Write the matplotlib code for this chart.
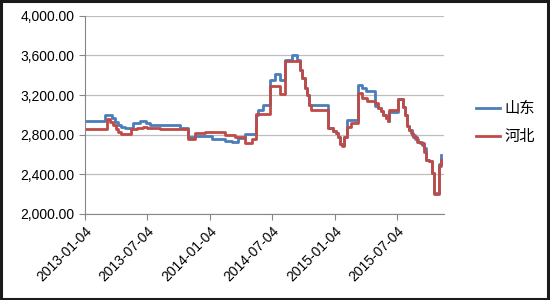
import matplotlib

matplotlib.use("Agg")
import matplotlib.dates as mdates
import matplotlib.pyplot as plt
import numpy as np
from matplotlib.patches import Rectangle
from matplotlib.ticker import FuncFormatter

# breakpoints of the two step series (date where the price changes, new price)
sd_dates = np.array([
    "2013-01-04", "2013-03-02", "2013-03-23", "2013-03-31", "2013-04-09", "2013-04-18",
    "2013-04-30", "2013-05-23", "2013-06-13", "2013-06-30", "2013-07-12", "2013-10-08",
    "2013-10-31", "2013-11-21", "2014-01-10", "2014-02-17", "2014-03-09", "2014-03-27",
    "2014-04-16", "2014-05-19", "2014-05-25", "2014-06-08", "2014-06-29", "2014-07-13",
    "2014-07-28", "2014-08-12", "2014-09-01", "2014-09-16", "2014-09-25", "2014-09-30",
    "2014-10-09", "2014-10-15", "2014-10-21", "2014-12-16", "2014-12-30", "2015-01-08",
    "2015-01-14", "2015-01-20", "2015-01-26", "2015-01-31", "2015-02-09", "2015-03-13",
    "2015-03-25", "2015-04-06", "2015-05-02", "2015-05-11", "2015-05-20", "2015-05-26",
    "2015-06-03", "2015-06-09", "2015-06-12", "2015-07-09", "2015-07-23", "2015-07-29",
    "2015-08-04", "2015-08-10", "2015-08-19", "2015-08-27", "2015-09-05", "2015-09-17",
    "2015-09-23", "2015-09-29", "2015-10-07", "2015-10-16", "2015-10-22", "2015-11-06",
    "2015-11-12",
], dtype="datetime64[D]")
sd_vals = [
    2940, 3000, 2970, 2930, 2900, 2880,
    2870, 2920, 2940, 2920, 2900, 2870,
    2780, 2790, 2760, 2740, 2730, 2770,
    2810, 3000, 3050, 3100, 3350, 3410,
    3350, 3555, 3600, 3555, 3455, 3375,
    3270, 3200, 3100, 2865, 2840, 2820,
    2780, 2710, 2700, 2780, 2950, 3300,
    3270, 3240, 3090, 3070, 3035, 3000,
    2965, 2935, 3030, 3160, 3080, 3000,
    2890, 2850, 2800, 2760, 2730, 2700,
    2665, 2545, 2530, 2415, 2210, 2500,
    2600,
]

hb_dates = np.array([
    "2013-01-04", "2013-03-08", "2013-03-17", "2013-03-26", "2013-04-03", "2013-04-09",
    "2013-04-18", "2013-05-17", "2013-06-04", "2013-06-21", "2013-07-03", "2013-08-10",
    "2013-10-31", "2013-11-21", "2013-12-20", "2014-02-17", "2014-03-18", "2014-04-16",
    "2014-05-07", "2014-05-19", "2014-06-29", "2014-07-28", "2014-08-12", "2014-09-25",
    "2014-09-30", "2014-10-09", "2014-10-15", "2014-10-21", "2014-10-27", "2014-12-16",
    "2014-12-30", "2015-01-08", "2015-01-14", "2015-01-20", "2015-01-26", "2015-01-31",
    "2015-02-09", "2015-02-21", "2015-03-13", "2015-03-25", "2015-04-09", "2015-05-02",
    "2015-05-11", "2015-05-20", "2015-05-26", "2015-06-03", "2015-06-09", "2015-06-12",
    "2015-07-09", "2015-07-23", "2015-07-29", "2015-08-04", "2015-08-10", "2015-08-16",
    "2015-08-22", "2015-09-02", "2015-09-11", "2015-09-23", "2015-09-29", "2015-10-07",
    "2015-10-16", "2015-10-22", "2015-11-06", "2015-11-12",
], dtype="datetime64[D]")
hb_vals = [
    2860, 2955, 2930, 2900, 2860, 2830,
    2810, 2855, 2870, 2880, 2870, 2860,
    2760, 2815, 2825, 2800, 2775, 2720,
    2755, 3010, 3290, 3215, 3540, 3455,
    3375, 3270, 3200, 3100, 3050, 2865,
    2840, 2820, 2780, 2710, 2690, 2780,
    2875, 2915, 3220, 3170, 3140, 3120,
    3070, 3035, 3000, 2965, 2935, 3050,
    3160, 3080, 3000, 2890, 2850, 2820,
    2780, 2730, 2715, 2630, 2545, 2530,
    2415, 2200, 2480, 2545,
]

series_names = ["山东", "河北"]
colors = ["#4A7EBB", "#BE4B48"]

x_ticks = np.array(["2013-01-04", "2013-07-04", "2014-01-04", "2014-07-04",
                    "2015-01-04", "2015-07-04"], dtype="datetime64[D]")
y_ticks = [2000, 2400, 2800, 3200, 3600, 4000]

plt.rcParams["font.family"] = ["Liberation Sans", "Noto Sans CJK SC", "DejaVu Sans"]

fig = plt.figure(figsize=(5.5, 3.0), dpi=100, facecolor="white")
ax = fig.add_axes([0.155, 0.287, 0.652, 0.66])

ax.step(sd_dates, sd_vals, where="post", color=colors[0], lw=2.0, label=series_names[0])
ax.step(hb_dates, hb_vals, where="post", color=colors[1], lw=2.0, label=series_names[1])

ax.set_ylim(2000, 4000)
ax.set_yticks(y_ticks)
ax.yaxis.set_major_formatter(FuncFormatter(lambda v, _: f"{v:,.2f}"))
ax.set_xlim(np.datetime64("2013-01-04"), np.datetime64("2015-11-19"))
ax.set_xticks(x_ticks)
ax.xaxis.set_major_formatter(mdates.DateFormatter("%Y-%m-%d"))
plt.setp(ax.get_xticklabels(), rotation=45, ha="right", rotation_mode="anchor")

ax.grid(axis="y", color="#BEBEBE", lw=0.9)
ax.set_axisbelow(True)
for side in ("top", "right"):
    ax.spines[side].set_visible(False)
for side in ("left", "bottom"):
    ax.spines[side].set_color("#868686")
ax.tick_params(axis="both", colors="#868686", labelcolor="black", labelsize=10,
               length=4, width=0.8)

leg = ax.legend(loc="center left", bbox_to_anchor=(1.05, 0.46), frameon=False,
                prop={"family": ["Noto Sans CJK SC", "DejaVu Sans"], "size": 11},
                handlelength=1.6, handletextpad=0.3, labelspacing=0.7)

fig.patches.append(Rectangle((0.002, 0.003), 0.995, 0.993, transform=fig.transFigure,
                             fill=False, edgecolor="#1A1A1A", lw=2.2))

fig.savefig("out.png", dpi=100, facecolor="white")
